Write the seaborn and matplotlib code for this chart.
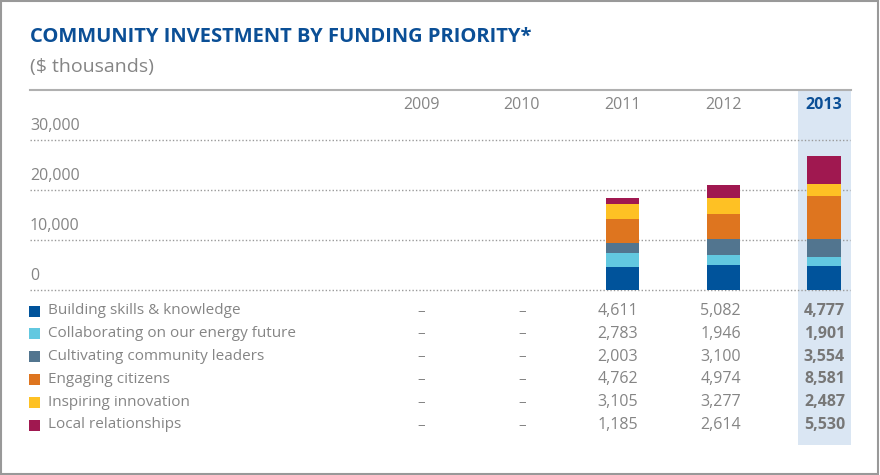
import matplotlib
matplotlib.use("Agg")
import matplotlib.pyplot as plt
import matplotlib.patches as mpatches
from matplotlib.lines import Line2D
import numpy as np
import pandas as pd
import seaborn as sns

## Data
years = ["2009", "2010", "2011", "2012", "2013"]
priorities = ["Building skills & knowledge",
              "Collaborating on our energy future",
              "Cultivating community leaders",
              "Engaging citizens",
              "Inspiring innovation",
              "Local relationships"]
building = [np.nan, np.nan, 4611, 5082, 4777]
collaborating = [np.nan, np.nan, 2783, 1946, 1901]
cultivating = [np.nan, np.nan, 2003, 3100, 3554]
engaging = [np.nan, np.nan, 4762, 4974, 8581]
inspiring = [np.nan, np.nan, 3105, 3277, 2487]
local = [np.nan, np.nan, 1185, 2614, 5530]
yticks = [0, 10000, 20000, 30000]

colors = ["#00539b", "#62c8e0", "#52758f", "#de751f", "#fec124", "#a01850"]
title_blue = "#0b4f96"
grey = "#858585"
highlight = "#dae6f3"

series = [building, collaborating, cultivating, engaging, inspiring, local]
df = pd.DataFrame(series, index=priorities, columns=years)
cum = df.cumsum()

W, H = 880, 475
def fx(x):
    return x / W
def fy(y):
    return 1 - y / H

plt.rcParams['font.family'] = ['Open Sans', 'DejaVu Sans']
fig = plt.figure(figsize=(8.8, 4.75), dpi=100)

# axes: x centers at 421 + 100.75*i, y: 0 at px 290, 5px per 1000
step = 100.75
x0 = 421
ax = fig.add_axes([fx(30), fy(290), (851 - 30) / W, 200 / H])
ax.patch.set_visible(False)

# highlight band for 2013
fig.add_artist(mpatches.Rectangle((fx(798), fy(445)), 53 / W, 355 / H,
                                  transform=fig.transFigure, color=highlight,
                                  zorder=-1, lw=0))

# stacked bars, drawn from the top layer down
for name, c in zip(priorities[::-1], colors[::-1]):
    sns.barplot(x=years, y=cum.loc[name].values, order=years, color=c,
                saturation=1, width=0.33, errorbar=None, ax=ax,
                linewidth=0, zorder=3)

ax.set_xlim((30 - x0) / step, (851 - x0) / step)
ax.set_ylim(0, 40000)
for s in ax.spines.values():
    s.set_visible(False)
ax.set_xticks([])
ax.set_yticks([])
ax.set_xlabel("")
ax.set_ylabel("")

for t in yticks:
    ax.plot([(30 - x0) / step, (850 - x0) / step], [t, t], ls=(0, (1, 1.5)),
            color="#9a9a9a", lw=1, zorder=1, clip_on=False)
    ax.annotate(f"{t:,}", xy=(0, t), xycoords=ax.get_yaxis_transform(),
                xytext=(0, 4), textcoords="offset points", ha="left",
                va="bottom", color=grey, fontsize=11.5)

# year headers
for i, y in enumerate(years):
    last = i == len(years) - 1
    fig.text(fx(x0 + step * i), fy(105), y, ha="center", va="center",
             fontsize=11.5, color=title_blue if last else grey,
             fontweight="bold" if last else "normal")

# title
fig.text(fx(30), fy(37), "COMMUNITY INVESTMENT BY FUNDING PRIORITY*",
         fontsize=14.5, fontweight="bold", color=title_blue, va="center")
fig.text(fx(30), fy(67), "($ thousands)", fontsize=14, color=grey, va="center")
fig.add_artist(Line2D([fx(30), fx(851)], [fy(90), fy(90)], color="#b0b0b0",
                      lw=1.5, transform=fig.transFigure))

# table
right_edges = [None, None, 638, 741, 845]
for r, name in enumerate(priorities):
    yy = 311 + r * 22.8
    fig.add_artist(mpatches.Rectangle((fx(29), fy(yy + 5.5)), 11 / W, 11 / H,
                                      transform=fig.transFigure,
                                      color=colors[r], lw=0))
    fig.text(fx(48), fy(yy), name, fontsize=11, color=grey, va="center")
    for i, y in enumerate(years):
        v = df.loc[name, y]
        if np.isnan(v):
            fig.text(fx(x0 + step * i), fy(yy), "–", fontsize=11, color=grey,
                     ha="center", va="center")
        else:
            last = i == len(years) - 1
            fig.text(fx(right_edges[i]), fy(yy), f"{int(v):,}", fontsize=11.5,
                     color="#777777" if last else grey, ha="right",
                     va="center", fontweight="bold" if last else "normal")

# frame
fig.add_artist(mpatches.Rectangle((0.001, 0.002), 0.997, 0.996,
                                  transform=fig.transFigure, fill=False,
                                  edgecolor="#999999", lw=1.5))

fig.savefig("out.png", dpi=100)
